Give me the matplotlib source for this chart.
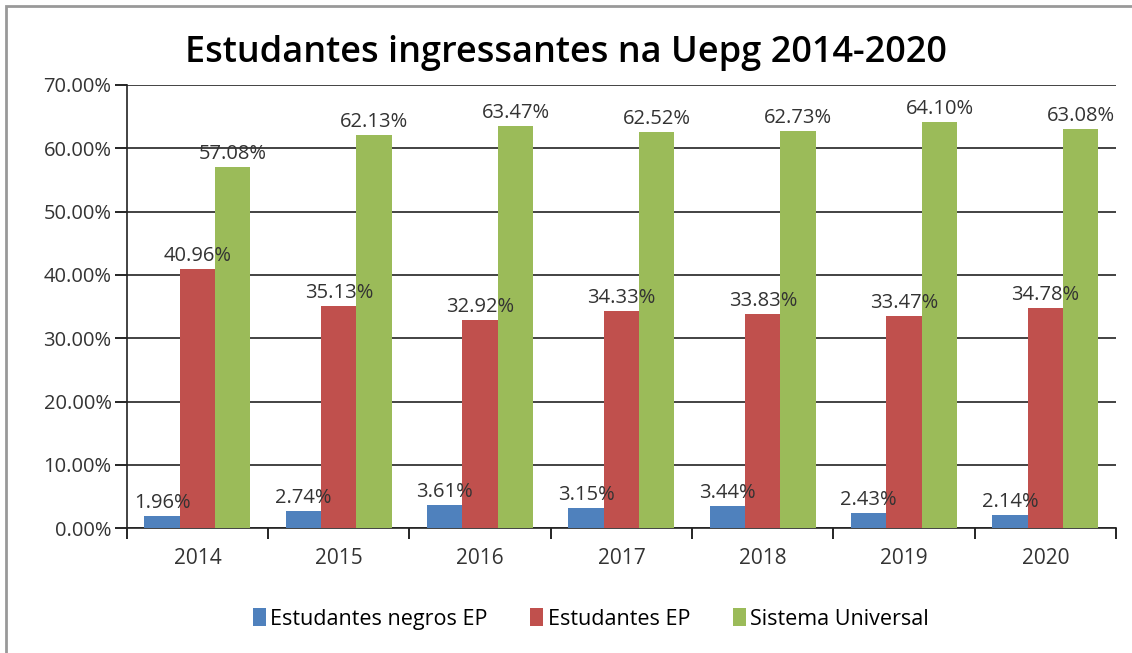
import numpy as np
import matplotlib.pyplot as plt
from matplotlib.patches import Rectangle

years = ['2014', '2015', '2016', '2017', '2018', '2019', '2020']
negros_ep = [1.96, 2.74, 3.61, 3.15, 3.44, 2.43, 2.14]
estudantes_ep = [40.96, 35.13, 32.92, 34.33, 33.83, 33.47, 34.78]
sistema_universal = [57.08, 62.13, 63.47, 62.52, 62.73, 64.10, 63.08]

series = [
    ('Estudantes negros EP', negros_ep, '#4F81BD'),
    ('Estudantes EP', estudantes_ep, '#C0504D'),
    ('Sistema Universal', sistema_universal, '#9BBB59'),
]

plt.rcParams['font.family'] = ['Open Sans', 'DejaVu Sans']

fig = plt.figure(figsize=(11.32, 6.53), dpi=100)
ax = fig.add_axes([0.112, 0.191, 0.874, 0.679])

# gray frame around the chart (left and top edges visible)
fig.add_artist(Rectangle((6 / 1132, -0.01), 1.05, 1 - 6 / 653 + 0.01,
                         transform=fig.transFigure, fill=False,
                         edgecolor='#999999', linewidth=2))

x = np.arange(len(years))
w = 0.25
for i, (name, vals, col) in enumerate(series):
    pos = x + (i - 1) * w
    ax.bar(pos, vals, width=w, color=col, label=name, zorder=3)
    for px, v in zip(pos, vals):
        ax.text(px, v + 0.5, f'{v:.2f}%', ha='center', va='bottom',
                fontsize=14.5, color='#333333', zorder=4)

ax.set_xlim(-0.5, len(years) - 0.5)
ax.set_ylim(0, 70)
ax.set_yticks(np.arange(0, 71, 10))
ax.set_yticklabels([f'{t:.2f}%' for t in range(0, 71, 10)])
ax.yaxis.grid(True, color='#222222', linewidth=1.2, zorder=0)

ax.set_xticks(x)
ax.set_xticklabels(years)
ax.set_xticks(np.arange(-0.5, len(years)), minor=True)
ax.tick_params(axis='x', which='major', length=0, pad=14, labelsize=15, labelcolor='#333333')
ax.tick_params(axis='x', which='minor', length=8, width=1.2, direction='out')
ax.tick_params(axis='y', length=9, width=1.2, pad=2, labelsize=14.5, labelcolor='#333333')

for s in ['top', 'right']:
    ax.spines[s].set_visible(False)
ax.spines['left'].set_linewidth(1.2)
ax.spines['bottom'].set_linewidth(1.2)
ax.spines['left'].set_color('#222222')
ax.spines['bottom'].set_color('#222222')

fig.text(0.5, 1 - 62 / 653, 'Estudantes ingressantes na Uepg 2014-2020', ha='center',
         va='baseline', fontsize=26, fontweight='semibold')

ax.legend(loc='center', bbox_to_anchor=(0.469, -0.205), ncol=3, frameon=False,
          fontsize=15.5, handlelength=0.6, handleheight=0.9, handletextpad=0.2,
          columnspacing=2.0)

fig.savefig('out.png', dpi=100)
